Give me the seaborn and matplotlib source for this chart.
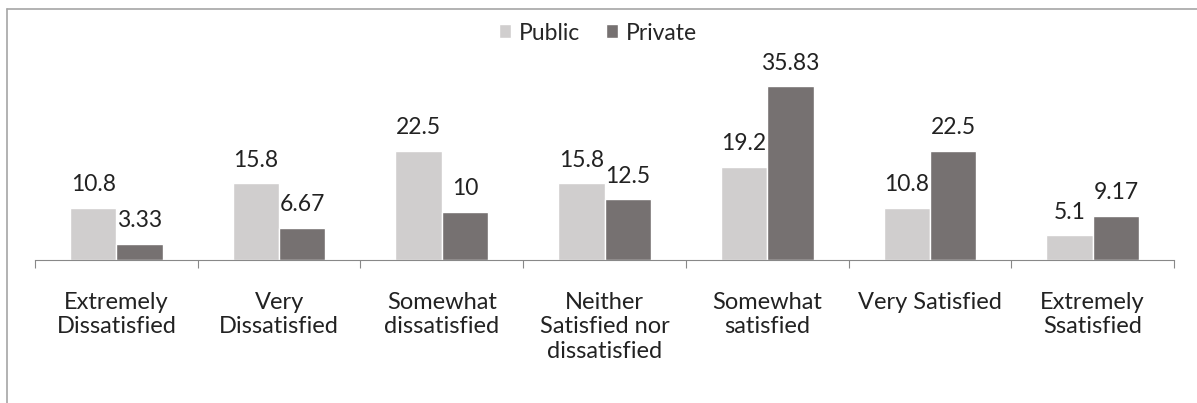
import pandas as pd
import matplotlib.pyplot as plt
import seaborn as sns
from matplotlib.lines import Line2D

categories = ['Extremely\nDissatisfied', 'Very\nDissatisfied', 'Somewhat\ndissatisfied',
              'Neither\nSatisfied nor\ndissatisfied', 'Somewhat\nsatisfied', 'Very Satisfied',
              'Extremely\nSsatisfied']
public = [10.8, 15.8, 22.5, 15.8, 19.2, 10.8, 5.1]
private = [3.33, 6.67, 10, 12.5, 35.83, 22.5, 9.17]

df = pd.DataFrame({
    'category': categories * 2,
    'value': public + private,
    'sector': ['Public'] * len(public) + ['Private'] * len(private),
})

sns.set_style('white')
plt.rcParams['font.family'] = ['Lato', 'DejaVu Sans']

fig = plt.figure(figsize=(11.97, 4.03), dpi=100)
ax = fig.add_axes([35 / 1197, 143 / 403, 1139 / 1197, 194 / 403])

sns.barplot(data=df, x='category', y='value', hue='sector',
            palette=['#D0CECE', '#767171'], width=0.57, saturation=1, ax=ax)

for cont, vals in zip(ax.containers, [public, private]):
    ax.bar_label(cont, labels=['{:g}'.format(v) for v in vals], padding=9,
                 fontsize=16.5, color='#222222')

handles, labels = ax.get_legend_handles_labels()
ax.get_legend().remove()
fig.legend(handles, labels, loc='center', bbox_to_anchor=(598 / 1197, 1 - 33 / 403),
           ncol=2, frameon=False, fontsize=16.5, handlelength=0.55, handleheight=0.55,
           handletextpad=0.35, columnspacing=1.1)

ax.set_ylim(0, 40)
ax.set_xlim(-0.5, len(categories) - 0.5)
ax.set_xticks([i - 0.5 for i in range(len(categories) + 1)])
ax.set_xticklabels([])
ax.set_xticks(range(len(categories)), minor=True)
ax.set_xticklabels(categories, minor=True, fontsize=17, color='#222222', linespacing=1.2)
ax.tick_params(axis='x', which='major', direction='out', length=6, color='#888888', bottom=True)
ax.tick_params(axis='x', which='minor', length=0, pad=23)
ax.set_xlabel('')
ax.set_ylabel('')
ax.set_yticks([])
for s in ['top', 'right', 'left']:
    ax.spines[s].set_visible(False)
ax.spines['bottom'].set_color('#888888')

# chart frame
fig.add_artist(Line2D([7 / 1197, 1], [1 - 9 / 403, 1 - 9 / 403], color='#A6A6A6', lw=1.2))
fig.add_artist(Line2D([7 / 1197, 7 / 1197], [0, 1 - 9 / 403], color='#A6A6A6', lw=1.2))

fig.savefig('out.png', dpi=100)
